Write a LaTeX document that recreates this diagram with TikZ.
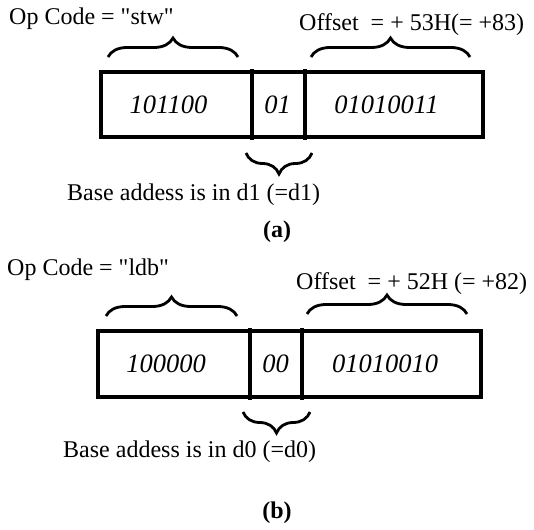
\documentclass[tikz,border=0pt]{standalone}
\usepackage{fontspec}
\setmainfont{Liberation Serif}
\setmonofont{Liberation Serif}
\usetikzlibrary{decorations.pathreplacing}
\newcommand{\sq}{{\ttfamily"}}
\begin{document}
\begin{tikzpicture}[x=1pt,y=-1pt,
  lbl/.style={inner sep=0pt, font=\fontsize{24}{28}\selectfont},
  bits/.style={inner sep=0pt, font=\fontsize{26.5}{30}\selectfont\itshape},
  capt/.style={inner sep=0pt, font=\fontsize{24}{28}\selectfont\bfseries},
  boxline/.style={line width=3.2pt},
  brc/.style={decorate, decoration={brace, amplitude=19pt}, line width=2.8pt},
  brcb/.style={decorate, decoration={brace, amplitude=21pt}, line width=2.8pt},
]
\useasboundingbox (0,0) rectangle (534,529);

% ---------- (a) ----------
\coordinate (aTL) at (101,72);
\coordinate (aBR) at (483,137);
\coordinate (aD1t) at (252,69);  \coordinate (aD1b) at (252,140);
\coordinate (aD2t) at (305,69);  \coordinate (aD2b) at (305,140);
\draw[boxline] (aTL) rectangle (aBR);
\draw[boxline] (aD1t) -- (aD1b);
\draw[boxline] (aD2t) -- (aD2b);
\node[bits] (aF1) at (168.5,104.5) {101100};
\node[bits] (aF2) at (277.5,104.5) {01};
\node[bits] (aF3) at (386.5,104.5) {01010011};

\coordinate (aB1s) at (108,57); \coordinate (aB1e) at (238,57);
\coordinate (aB2s) at (311,57); \coordinate (aB2e) at (470,57);
\coordinate (aB3s) at (312,153); \coordinate (aB3e) at (246,153);
\draw[brc] (aB1s) -- (aB1e);
\draw[brc] (aB2s) -- (aB2e);
\draw[brcb] (aB3s) -- (aB3e);

\node[lbl, anchor=base west] (aOp) at (9,25) {Op Code = \sq stw\sq};
\node[lbl, anchor=base west] (aOff) at (299,31) {Offset\ \ = + 53H(= +83)};
\node[lbl, anchor=base west] (aBase) at (67,200) {Base addess is in d1 (=d1)};
\node[capt, anchor=base] (aCap) at (277,237) {(a)};

% ---------- (b) ----------
\coordinate (bTL) at (98,331);
\coordinate (bBR) at (481,397);
\coordinate (bD1t) at (250,328);  \coordinate (bD1b) at (250,400);
\coordinate (bD2t) at (302,328);  \coordinate (bD2b) at (302,400);
\draw[boxline] (bTL) rectangle (bBR);
\draw[boxline] (bD1t) -- (bD1b);
\draw[boxline] (bD2t) -- (bD2b);
\node[bits] (bF1) at (166,364) {100000};
\node[bits] (bF2) at (275.5,364) {00};
\node[bits] (bF3) at (385,364) {01010010};

\coordinate (bB1s) at (106,316); \coordinate (bB1e) at (237,316);
\coordinate (bB2s) at (307,314); \coordinate (bB2e) at (467,314);
\coordinate (bB3s) at (310,412); \coordinate (bB3e) at (243,412);
\draw[brc] (bB1s) -- (bB1e);
\draw[brc] (bB2s) -- (bB2e);
\draw[brcb] (bB3s) -- (bB3e);

\node[lbl, anchor=base west] (bOp) at (7,275) {Op Code = \sq ldb\sq};
\node[lbl, anchor=base west] (bOff) at (296,289) {Offset\ \ = + 52H (= +82)};
\node[lbl, anchor=base west] (bBase) at (63,457) {Base addess is in d0 (=d0)};
\node[capt, anchor=base] (bCap) at (277,518) {(b)};
\end{tikzpicture}
\end{document}
